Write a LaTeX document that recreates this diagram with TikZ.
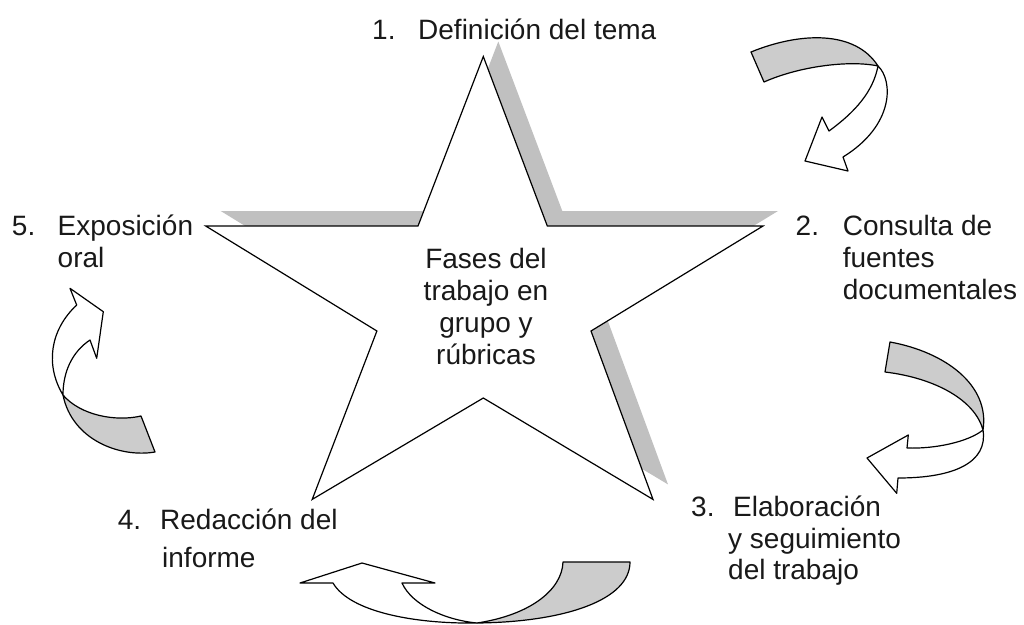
\documentclass[tikz,border=0pt]{standalone}
\usepackage{fontspec}
\setmainfont{Liberation Sans}
\definecolor{bandgray}{RGB}{204,204,204}
\definecolor{shadowgray}{RGB}{192,192,192}
\definecolor{ink}{RGB}{25,25,25}
\begin{document}
\begin{tikzpicture}[x=1pt,y=-1pt,
  lbl/.style={font=\fontsize{28}{32}\selectfont, text=ink, inner sep=0pt, anchor=base west},
  outline/.style={draw=black, line width=1.2pt, line join=round},
  backband/.style={outline, fill=bandgray},
  frontband/.style={outline, fill=white}]
\useasboundingbox (0,0) rectangle (1024,624);
\clip (0,0) rectangle (1024,624);

% star shadow
\fill[shadowgray, shift={(15,-15)}]
  (483.3,56.5) -- (547.3,226) -- (763,226) -- (591,331) -- (653,499.4) --
  (483.3,398) -- (312.2,499.4) -- (376.9,331) -- (205.7,226) -- (418,226) -- cycle;
% star
\draw[fill=white, draw=black, line width=1.2pt, line join=miter]
  (483.3,56.5) -- (547.3,226) -- (763,226) -- (591,331) -- (653,499.4) --
  (483.3,398) -- (312.2,499.4) -- (376.9,331) -- (205.7,226) -- (418,226) -- cycle;

% center text
\node[lbl, anchor=base] (centre) at (486,268.6)
  {\begin{tabular}[t]{@{}c@{}}Fases del\\ trabajo en\\ grupo y\\ rúbricas\end{tabular}};

% labels
\node[lbl] (n1) at (372,39) {1.};
\node[lbl] (t1) at (418,39) {Definición del tema};
\node[lbl] (n2) at (795.5,235) {2.};
\node[lbl] (t2) at (842.6,235) {\begin{tabular}[t]{@{}l@{}}Consulta de\\ fuentes\\ documentales\end{tabular}};
\node[lbl] (n3) at (691,516.5) {3.};
\node[lbl] (t3) at (728,516.5) {\begin{tabular}[t]{@{}l@{}}\hspace{5pt}Elaboración\\[-0.5pt] y seguimiento\\[-0.5pt] del trabajo\end{tabular}};
\node[lbl] (n4) at (117.6,529) {4.};
\node[lbl] (t4) at (160,529) {\begin{tabular}[t]{@{}l@{}}Redacción del\\[6pt] \hspace{2pt}informe\end{tabular}};
\node[lbl] (n5) at (11.8,235) {5.};
\node[lbl] (t5) at (57.5,235) {\begin{tabular}[t]{@{}l@{}}Exposición\\ oral\end{tabular}};

% arrow 1 (top right)
\draw[backband] (751,52) .. controls (800,32) and (855,30) .. (878,66)
  .. controls (850,60) and (800,66) .. (764,82) -- cycle;
\draw[frontband] (878,66) .. controls (893,80) and (895,125) .. (843,157)
  -- (848,171) -- (805,161) -- (822,117) -- (829,131)
  .. controls (855,112) and (873,92) .. (878,66) -- cycle;

% arrow 2 (right)
\draw[backband] (890,342) .. controls (945,352) and (990,385) .. (983,430)
  .. controls (975,400) and (935,378) .. (885,372) -- cycle;
\draw[frontband] (983,430) .. controls (968,442) and (935,449) .. (907,448)
  -- (908.3,435) -- (867,458) -- (896.7,493.3) -- (898,478)
  .. controls (955,478) and (988,462) .. (983,430) -- cycle;

% arrow 3 (bottom)
\draw[backband] (563,562) -- (630,562) .. controls (630,600) and (565,622) .. (477,623)
  .. controls (530,615) and (562,590) .. (563,562) -- cycle;
\draw[frontband] (477,623) .. controls (415,624) and (350,612) .. (333,583)
  -- (300,583) -- (362,563) -- (435,583) -- (402,583)
  .. controls (412,605) and (445,620) .. (477,623) -- cycle;

% arrow 4 (left)
\draw[backband] (63,395) .. controls (80,415) and (115,422) .. (141,416)
  -- (155,452) .. controls (120,458) and (72,440) .. (63,395) -- cycle;
\draw[frontband] (63,395) .. controls (45,365) and (50,330) .. (76.7,305)
  -- (70,288.3) -- (103.3,311.7) -- (96.7,358.3) -- (90,340)
  .. controls (72,352) and (63,372) .. (63,395) -- cycle;
\end{tikzpicture}
\end{document}
